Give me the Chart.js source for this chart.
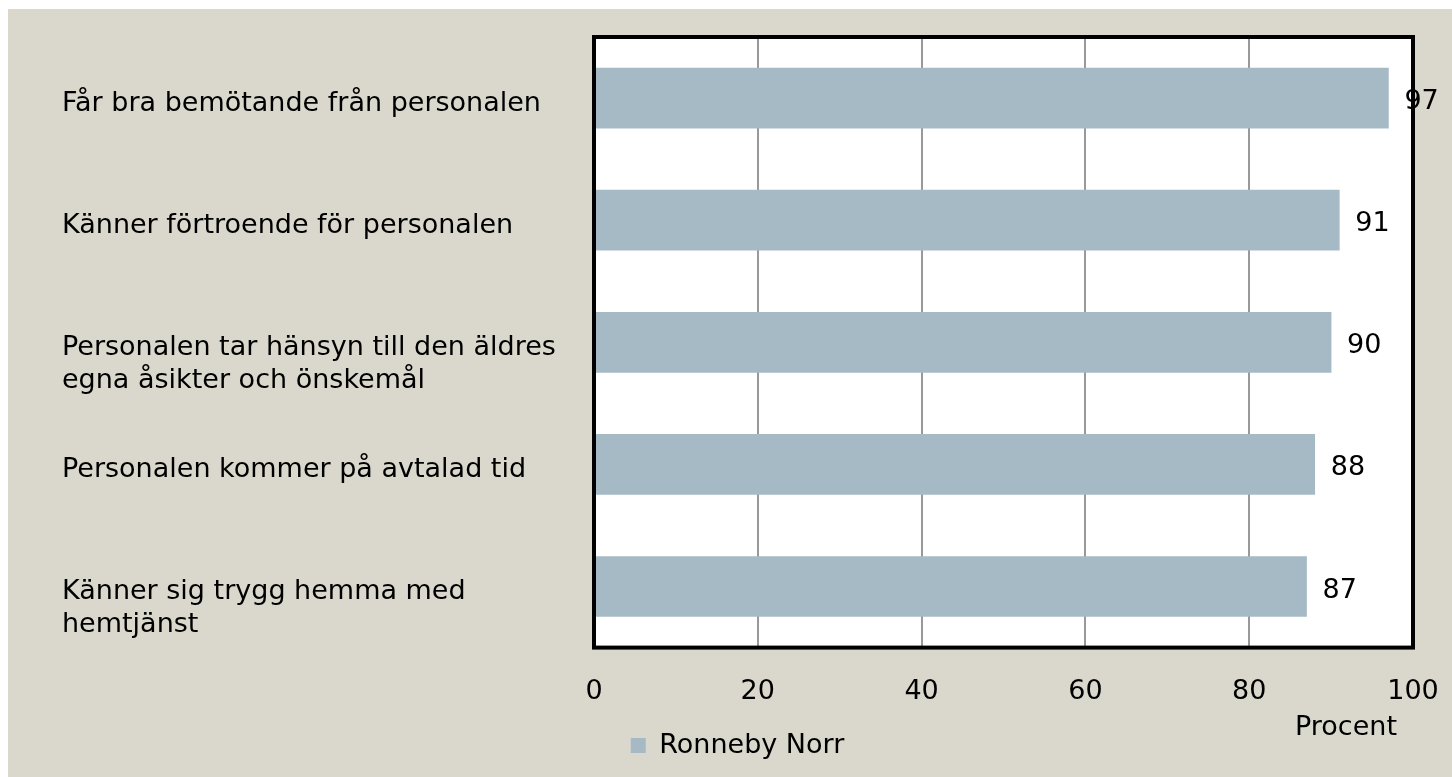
<!DOCTYPE html>
<html lang="en">
<head>
    <meta charset="UTF-8">
    <title>Ronneby Norr</title>
    <script src="https://cdn.jsdelivr.net/npm/chart.js"></script>
    <style>
        html, body { margin: 0; padding: 0; background: #fff; }
        #wrap { position: absolute; left: 8px; top: 9px; width: 1444px; height: 768px; background: #dad8cc; }
    </style>
</head>
<body>
    <div id="wrap"><canvas id="chart"></canvas></div>

    <script>
        // Kategorier (uppifrån och ned)
        const categories = [
            'Får bra bemötande från personalen',
            'Känner förtroende för personalen',
            ['Personalen tar hänsyn till den äldres', 'egna åsikter och önskemål'],
            'Personalen kommer på avtalad tid',
            ['Känner sig trygg hemma med', 'hemtjänst']
        ];
        const values = [97, 91, 90, 88, 87];
        const seriesName = 'Ronneby Norr';
        const xTicks = [0, 20, 40, 60, 80, 100];
        const axisTitle = 'Procent';

        const FONT = '"DejaVu Sans", sans-serif';
        const SIZE = 27;

        // etiketterna ska toppjusteras mot stapeln, så alla får två rader
        const labels = categories.map(c => Array.isArray(c) ? c : [c, '']);

        const plotBg = {
            id: 'plotBg',
            beforeDraw(chart) {
                const { ctx, chartArea: a } = chart;
                ctx.save();
                ctx.fillStyle = '#fff';
                ctx.fillRect(a.left, a.top, a.right - a.left, a.bottom - a.top);
                ctx.restore();
            }
        };

        // Ram runt diagramytan, värden vid staplarna och axeltitel
        const extras = {
            id: 'extras',
            afterDatasetsDraw(chart) {
                const { ctx, chartArea: a } = chart;
                const meta = chart.getDatasetMeta(0);
                ctx.save();
                ctx.font = SIZE + 'px ' + FONT;
                ctx.fillStyle = '#000';
                ctx.textBaseline = 'middle';
                ctx.textAlign = 'left';
                meta.data.forEach((bar, i) => {
                    ctx.fillText(String(values[i]), bar.x + 16, bar.y + 4);
                });
                ctx.lineWidth = 4;
                ctx.strokeStyle = '#000';
                ctx.strokeRect(a.left, a.top, a.right - a.left, a.bottom - a.top);
                ctx.textAlign = 'right';
                ctx.fillText(axisTitle, a.right - 16, a.bottom + 80);
                ctx.restore();
            }
        };

        new Chart(document.getElementById('chart'), {
            type: 'bar',
            data: {
                labels: labels,
                datasets: [{
                    label: seriesName,
                    data: values,
                    backgroundColor: '#a6bac5',
                    borderWidth: 0,
                    barThickness: 60
                }]
            },
            options: {
                indexAxis: 'y',
                responsive: true,
                maintainAspectRatio: false,
                animation: false,
                layout: { padding: { left: 54, top: 28, right: 39, bottom: 8 } },
                scales: {
                    x: {
                        min: 0,
                        max: 100,
                        afterBuildTicks(scale) { scale.ticks = xTicks.map(v => ({ value: v })); },
                        afterFit(scale) {
                            scale.height -= 24;
                            scale.paddingLeft = 0;
                            scale.paddingRight = 0;
                        },
                        grid: { color: '#999', lineWidth: 2, drawTicks: false },
                        border: { display: false },
                        ticks: { color: '#000', font: { family: FONT, size: SIZE }, padding: 28 }
                    },
                    y: {
                        grid: { display: false },
                        border: { display: false },
                        afterFit(scale) {
                            scale.width = 532;
                            scale.paddingTop = 0;
                            scale.paddingBottom = 0;
                        },
                        ticks: {
                            color: '#000',
                            crossAlign: 'far',
                            labelOffset: 22,
                            font: { family: FONT, size: SIZE }
                        }
                    }
                },
                plugins: {
                    legend: {
                        position: 'bottom',
                        labels: {
                            color: '#000',
                            boxWidth: 15,
                            boxHeight: 15,
                            font: { family: FONT, size: SIZE },
                            padding: 20
                        }
                    },
                    tooltip: { enabled: false }
                }
            },
            plugins: [plotBg, extras]
        });
    </script>
</body>
</html>
